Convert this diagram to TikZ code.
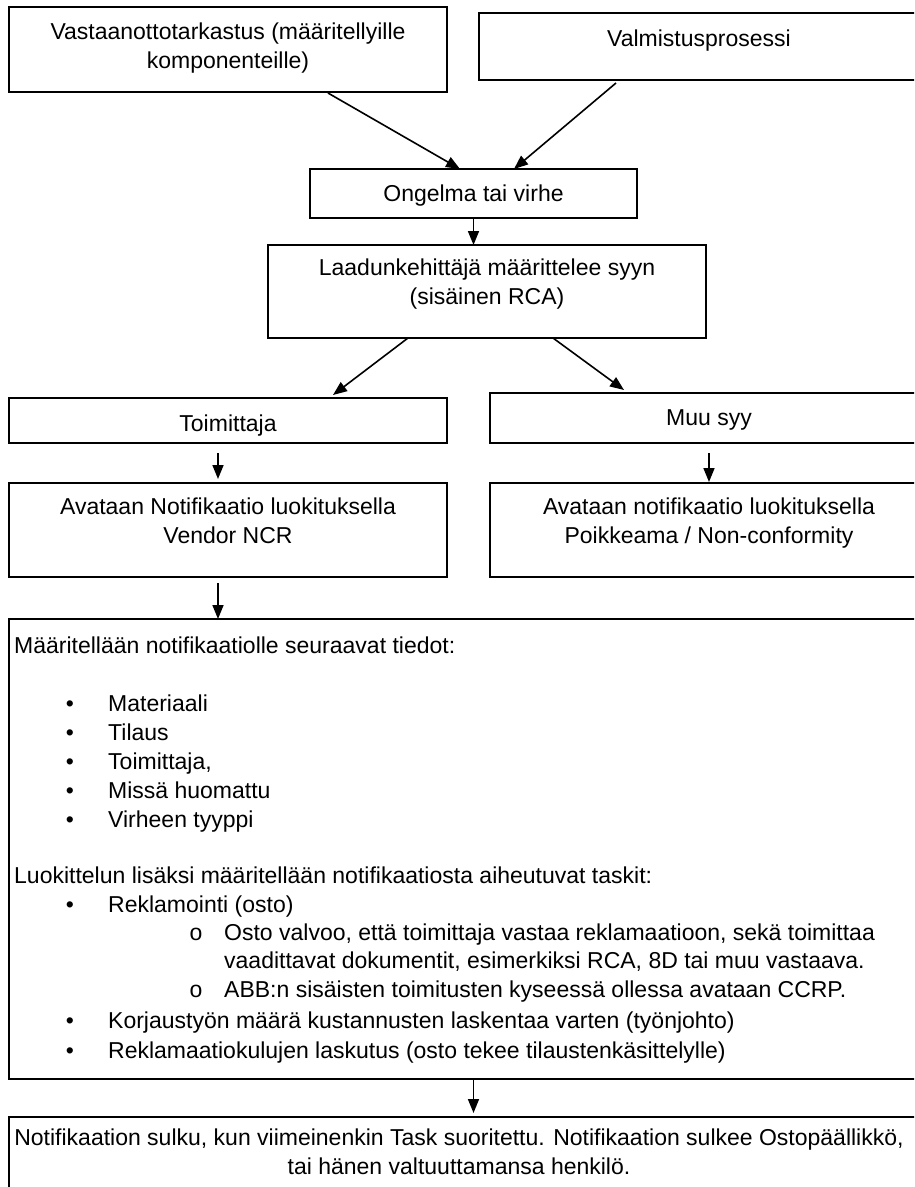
\documentclass[tikz,border=0pt]{standalone}
\usepackage{fontspec}
\setmainfont{Liberation Sans}
\usetikzlibrary{arrows.meta,positioning,calc}

\begin{document}
\begin{tikzpicture}[x=1pt, y=-1pt,
    box/.style={draw, line width=1.7pt, inner sep=0pt, outer sep=0pt},
    txt/.style={inner sep=0pt, yshift=-3pt, font=\fontsize{23}{29}\selectfont,
      execute at begin node=\strut, execute at end node=\strut},
    rivi/.style={txt, anchor=west},
    arr/.style={line width=1.6pt, -{Triangle[length=14pt,width=11pt]}}]
  \useasboundingbox (0,0) rectangle (914,1187);
  \clip (0,0) rectangle (914,1187);
  % laatikot: nimi/vasen/yla/oikea/ala
  \foreach \nimi/\vas/\yla/\oik/\ala in {vast/9/7/447/92, valm/479/13/919/80,
      ong/310/169/637/218, laatu/268/245/706/338, toim/9/398/447/443,
      muu/490/393/928/443, avnot/9/483/447/577, avpoik/490/483/928/577,
      tied/9/619/938/1079, sulku/9/1117/938/1200}
    \node[box, minimum width={\oik-\vas}, minimum height={\ala-\yla}] (\nimi)
      at ({(\vas+\oik)/2},{(\yla+\ala)/2}) {};

  \node[txt, align=center] (t-vast) at (228,47.5) {Vastaanottotarkastus (määritellyille\\komponenteille)};
  \node[txt] (t-valm) at (699,38) {Valmistusprosessi};
  \node[txt] (t-ong) at (473.5,193) {Ongelma tai virhe};
  \node[txt, align=center] (t-laatu) at (487,283) {Laadunkehittäjä määrittelee syyn\\(sisäinen RCA)};
  \node[txt] (t-toim) at (228,423) {Toimittaja};
  \node[txt] (t-muu) at (709,417) {Muu syy};
  \node[txt, align=center] (t-avnot) at (228,522.5) {Avataan Notifikaatio luokituksella\\Vendor NCR};
  \node[txt, align=center] (t-avpoik) at (709,522.5) {Avataan notifikaatio luokituksella\\Poikkeama / Non-conformity};

  % tietolaatikon rivit
  \foreach \y/\x/\teksti in {645/14/{Määritellään notifikaatiolle seuraavat tiedot:},
      703/108/Materiaali, 732/108/Tilaus, 761/108/{Toimittaja,},
      790/108/{Missä huomattu}, 819/108/{Virheen tyyppi},
      875/14/{Luokittelun lisäksi määritellään notifikaatiosta aiheutuvat taskit:},
      904/108/{Reklamointi (osto)},
      932/224/{Osto valvoo, että toimittaja vastaa reklamaatioon, sekä toimittaa},
      960/224/{vaadittavat dokumentit, esimerkiksi RCA, 8D tai muu vastaava.},
      989/224/{ABB:n sisäisten toimitusten kyseessä ollessa avataan CCRP.},
      1020/108/{Korjaustyön määrä kustannusten laskentaa varten (työnjohto)},
      1050/108/{Reklamaatiokulujen laskutus (osto tekee tilaustenkäsittelylle)}}
    \node[rivi] (rivi-\y) at (\x,\y) {\teksti};
  \foreach \y in {703,732,761,790,819,904,1020,1050}
    \node[txt] (pallo-\y) at (70,\y) {\textbullet};
  \foreach \y in {932,989}
    \node[txt] (ympyra-\y) at (196,\y) {o};

  \node[txt, align=center] (t-sulku) at (459,1153.5) {Notifikaation sulku, kun viimeinenkin Task suoritettu. Notifikaation sulkee Ostopäällikkö,\\tai hänen valtuuttamansa henkilö.};

  \draw[arr] ([xshift=100pt,yshift=-1pt]vast.south) -- ([xshift=-13.5pt]ong.north);
  \draw[arr] ([xshift=-83pt,yshift=-3pt]valm.south) -- ([xshift=40.5pt]ong.north);
  \draw[arr] (ong.south) -- (ong.south |- laatu.north);
  \draw[arr] ([xshift=-79pt]laatu.south) -- ([xshift=105pt,yshift=3pt]toim.north);
  \draw[arr] ([xshift=66pt]laatu.south) -- ([xshift=-85pt,yshift=3pt]muu.north);
  \draw[arr] ([xshift=-10pt,yshift=-10pt]toim.south) -- ([xshift=-10pt,yshift=4pt]avnot.north);
  \draw[arr] ([yshift=-10pt]muu.south) -- ([yshift=1pt]avpoik.north);
  \draw[arr] ([xshift=-10pt,yshift=-6pt]avnot.south) -- ($(avnot.south |- tied.north)+(-10,0)$);
  \draw[arr] (tied.south) -- ([yshift=4pt]sulku.north);
\end{tikzpicture}
\end{document}
